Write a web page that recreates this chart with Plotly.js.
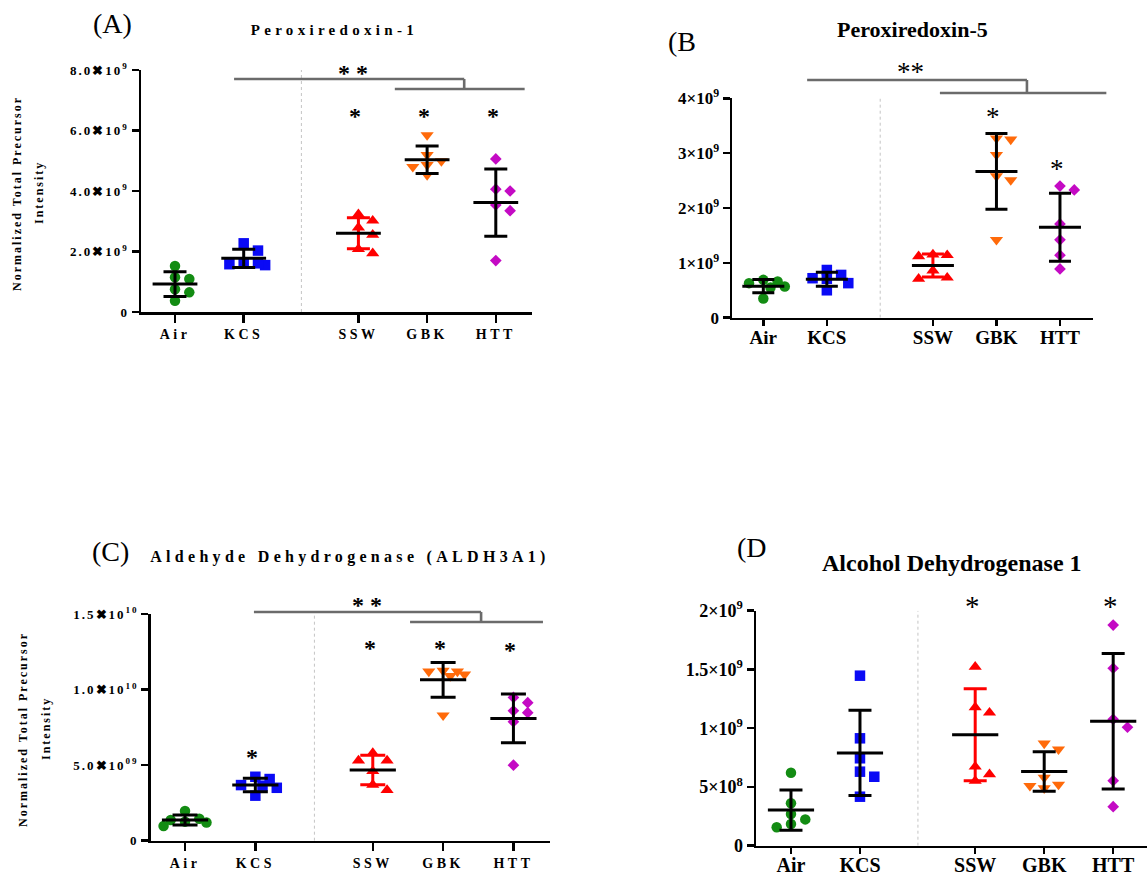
<!DOCTYPE html>
<html>
<head>
<meta charset="utf-8">
<script src="https://cdn.plot.ly/plotly-3.0.1.min.js"></script>
<style>
html,body{margin:0;padding:0;background:#fff;}
#chart{width:1147px;height:878px;}
.xtick text,.x3tick text{letter-spacing:3.5px;}
.ytick text,.y3tick text{letter-spacing:2px;}
g.annotation[data-index="0"] text,g.annotation[data-index="1"] text{letter-spacing:4.3px;}
g.annotation[data-index="2"] text,g.annotation[data-index="3"] text,
g.annotation[data-index="4"] text,g.annotation[data-index="5"] text{letter-spacing:2px;}
</style>
</head>
<body>
<div id="chart"></div>
<script>
// ---------------- data ----------------
const categories = ["Air", "KCS", "SSW", "GBK", "HTT"];

// (A) Peroxiredoxin-1
const prdx1Air = [1.15e9, 1.52e9, 1.09e9, 0.75e9, 0.65e9, 0.37e9];
const prdx1KCS = [2.27e9, 2.03e9, 1.61e9, 1.55e9, 1.58e9, 1.61e9];
const prdx1SSW = [2.79e9, 3.23e9, 3.02e9, 2.55e9, 1.94e9, 2.08e9];
const prdx1GBK = [5.85e9, 5.19e9, 4.86e9, 4.80e9, 4.99e9, 4.53e9];
const prdx1HTT = [5.06e9, 4.00e9, 4.06e9, 3.54e9, 3.35e9, 1.70e9];

// (B) Peroxiredoxin-5
const prdx5Air = [0.69e9, 0.66e9, 0.57e9, 0.55e9, 0.35e9, 0.63e9];
const prdx5KCS = [0.87e9, 0.71e9, 0.78e9, 0.63e9, 0.50e9, 0.72e9];
const prdx5SSW = [1.15e9, 1.14e9, 1.12e9, 0.86e9, 0.71e9, 0.73e9];
const prdx5GBK = [3.25e9, 3.27e9, 2.97e9, 2.58e9, 2.51e9, 1.42e9];
const prdx5HTT = [2.33e9, 2.40e9, 1.71e9, 1.42e9, 1.14e9, 0.89e9];

// (C) Aldehyde Dehydrogenase (ALDH3A1)
const aldhAir = [1.96e9, 1.37e9, 0.97e9, 1.26e9, 1.45e9, 1.20e9];
const aldhKCS = [4.23e9, 4.08e9, 3.64e9, 3.68e9, 2.98e9, 3.50e9];
const aldhSSW = [5.80e9, 5.30e9, 5.30e9, 4.60e9, 3.35e9, 3.70e9];
const aldhGBK = [11.20e9, 10.90e9, 11.00e9, 11.20e9, 11.25e9, 8.30e9];
const aldhHTT = [9.48e9, 9.13e9, 8.47e9, 8.60e9, 7.87e9, 5.00e9];

// (D) Alcohol Dehydrogenase 1
const adhAir = [6.21e8, 3.61e8, 2.70e8, 2.24e8, 1.85e8, 1.57e8];
const adhKCS = [14.47e8, 9.14e8, 7.44e8, 6.30e8, 5.87e8, 4.17e8];
const adhSSW = [15.23e8, 11.32e8, 11.78e8, 6.72e8, 6.08e8, 5.51e8];
const adhGBK = [8.20e8, 8.70e8, 5.80e8, 4.90e8, 5.20e8, 5.10e8];
const adhHTT = [18.78e8, 15.10e8, 10.76e8, 10.08e8, 5.53e8, 3.32e8];

// significance marks per group
const sigA = ["", "", "*", "*", "*"];
const sigB = ["", "", "", "*", "*"];
const sigC = ["", "*", "*", "*", "*"];
const sigD = ["", "", "*", "", "*"];

// y tick values / labels
const tickValsA = [0, 2e9, 4e9, 6e9, 8e9];
const tickTextA = ["0", "2.0✖10<sup>9</sup>", "4.0✖10<sup>9</sup>", "6.0✖10<sup>9</sup>", "8.0✖10<sup>9</sup>"];
const tickValsB = [0, 1e9, 2e9, 3e9, 4e9];
const tickTextB = ["0", "1×10<sup>9</sup>", "2×10<sup>9</sup>", "3×10<sup>9</sup>", "4×10<sup>9</sup>"];
const tickValsC = [0, 5e9, 1e10, 1.5e10];
const tickTextC = ["0", "5.0✖10<sup>09</sup>", "1.0✖10<sup>10</sup>", "1.5✖10<sup>10</sup>"];
const tickValsD = [0, 5e8, 1e9, 1.5e9, 2e9];
const tickTextD = ["0", "5×10<sup>8</sup>", "1×10<sup>9</sup>", "1.5×10<sup>9</sup>", "2×10<sup>9</sup>"];

// ---------------- layout / style ----------------
const W = 1147, H = 878;
const SERIF = "Liberation Serif, Times New Roman, serif";
const GAP = 0.67;
const catPos = categories.map((c, i) => i + (i >= 2 ? GAP : 0));

const groupStyle = [
  {symbol: "circle",        color: "#138c13", size: 10.5, err: "#000000"},
  {symbol: "square",        color: "#0a0af5", size: 10.5, err: "#000000"},
  {symbol: "triangle-up",   color: "#ff0000", size: 11.5, err: "#ff0000"},
  {symbol: "triangle-down", color: "#ff6a0a", size: 11.5, err: "#000000"},
  {symbol: "diamond",       color: "#c40ac4", size: 9,    err: "#000000"}
];

const panels = [
  {xa: "x",  ya: "y",  box: {l: 141, r: 532, t: 70, b: 312}, xr: [-0.495, 5.197], yMax: 8e9,
   series: [prdx1Air, prdx1KCS, prdx1SSW, prdx1GBK, prdx1HTT], sig: sigA,
   starY: [0, 0, 113, 113, 113], starFont: {size: 24, weight: "bold"},
   tv: tickValsA, tt: tickTextA, xfs: 14, yfs: 13, xtl: 8, xso: 0, meanSize: 32, cap: 11.5,
   bracket: {top: [0.86, 4.21], low: [3.2, 5.09], yTop: 79, yLow: 89, starX: 2.59, starY: 70, text: "* *", size: 24, weight: "bold"}},
  {xa: "x2", ya: "y2", box: {l: 732, r: 1093, t: 98.3, b: 317.7}, xr: [-0.493, 5.19], yMax: 4e9,
   series: [prdx5Air, prdx5KCS, prdx5SSW, prdx5GBK, prdx5HTT], sig: sigB,
   starY: [0, 0, 0, 113, 165], starFont: {size: 27, weight: "normal"},
   tv: tickValsB, tt: tickTextB, xfs: 19, yfs: 17, xtl: 6, xso: -5, meanSize: 30, cap: 11,
   bracket: {top: [0.69, 4.15], low: [2.78, 5.4], yTop: 80, yLow: 93, starX: 2.31, starY: 68, text: "**", size: 27, weight: "normal"}},
  {xa: "x3", ya: "y3", box: {l: 150.7, r: 550, t: 614, b: 840.7}, xr: [-0.488, 5.19], yMax: 1.5e10,
   series: [aldhAir, aldhKCS, aldhSSW, aldhGBK, aldhHTT], sig: sigC,
   starY: [0, 754, 645, 645, 647], starFont: {size: 24, weight: "bold"},
   tv: tickValsC, tt: tickTextC, xfs: 14, yfs: 13, xtl: 8, xso: 0, meanSize: 33, cap: 12.5,
   bracket: {top: [0.98, 4.21], low: [3.2, 5.09], yTop: 612, yLow: 622, starX: 2.59, starY: 602, text: "* *", size: 24, weight: "bold"}},
  {xa: "x4", ya: "y4", box: {l: 756, r: 1147, t: 610.7, b: 845.7}, xr: [-0.507, 5.16], yMax: 2e9,
   series: [adhAir, adhKCS, adhSSW, adhGBK, adhHTT], sig: sigD,
   starY: [0, 0, 602, 0, 602], starFont: {size: 29, weight: "normal"},
   tv: tickValsD, tt: tickTextD, xfs: 20, yfs: 18, xtl: 6, xso: -6, meanSize: 33, cap: 11.5,
   bracket: null}
];

// ---------------- helpers ----------------
function mean(a) { return a.reduce((s, v) => s + v, 0) / a.length; }
function sd(a) { const m = mean(a); return Math.sqrt(a.reduce((s, v) => s + (v - m) * (v - m), 0) / (a.length - 1)); }
function paperX(p, xv) { return (p.box.l + (xv - p.xr[0]) / (p.xr[1] - p.xr[0]) * (p.box.r - p.box.l)) / W; }
function paperY(ypx) { return 1 - ypx / H; }

// beeswarm (Prism-like): points whose values are close sit side by side in a row
function swarm(vals, pxPerY, pxPerX, diam) {
  const order = vals.map((v, i) => i).sort((a, b) => vals[b] - vals[a]);
  const placed = [];
  const off = new Array(vals.length).fill(0);
  const step = diam * 0.65, needX = diam * 1.25, needY = diam * 0.9;
  const cands = [0];
  for (let m = 1; m <= 3; m++) { cands.push(m * step, -m * step); }
  for (const i of order) {
    const y = vals[i] * pxPerY;
    let best = null, bestScore = -1;
    for (const dx of cands) {
      const clash = placed.some(q => Math.abs(q.y - y) < needY && Math.abs(q.x - dx) < needX);
      if (!clash) { best = dx; break; }
      const score = Math.min(...placed.map(q => Math.hypot(q.x - dx, q.y - y)));
      if (score > bestScore) { bestScore = score; best = dx; }
    }
    placed.push({x: best, y: y});
    off[i] = best / pxPerX;
  }
  return off;
}

const traces = [];
const shapes = [];
const annotations = [];
const layout = {
  width: W, height: H, margin: {l: 0, r: 0, t: 0, b: 0},
  paper_bgcolor: "#fff", plot_bgcolor: "rgba(0,0,0,0)",
  showlegend: false, font: {family: SERIF, color: "#000"}
};

// text annotations (indices 0..5 used by CSS letter-spacing)
function addText(text, xpx, ypx, size, opts) {
  opts = opts || {};
  annotations.push({
    text: text, xref: "paper", yref: "paper", x: xpx / W, y: paperY(ypx),
    xanchor: "center", yanchor: "middle", showarrow: false,
    textangle: opts.angle || 0,
    font: {family: SERIF, size: size, color: "#000", weight: opts.weight || "normal"}
  });
}
addText("Peroxiredoxin-1", 334, 30, 15, {weight: "bold"});                        // 0
addText("Aldehyde Dehydrogenase (ALDH3A1)", 350, 557, 16, {weight: "bold"});       // 1
addText("Normalized Total Precursor", 17, 193, 12, {weight: "bold", angle: -90});  // 2
addText("Intensity", 39, 193, 12, {weight: "bold", angle: -90});                    // 3
addText("Normalized Total Precursor", 23, 729, 12, {weight: "bold", angle: -90});  // 4
addText("Intensity", 46, 729, 12, {weight: "bold", angle: -90});                    // 5

panels.forEach((p, pi) => {
  const sfx = pi === 0 ? "" : String(pi + 1);
  const pw = p.box.r - p.box.l, ph = p.box.b - p.box.t;
  const pxPerX = pw / (p.xr[1] - p.xr[0]);
  const pxPerY = ph / p.yMax;

  layout["xaxis" + sfx] = {
    domain: [p.box.l / W, p.box.r / W], range: p.xr, anchor: "y" + sfx,
    showline: true, linewidth: 2.5, linecolor: "#000", mirror: false,
    ticks: "outside", ticklen: p.xtl, tickwidth: 2.5, tickcolor: "#000",
    ticklabelstandoff: p.xso,
    tickmode: "array", tickvals: catPos, ticktext: categories,
    tickfont: {family: SERIF, size: p.xfs, color: "#000", weight: "bold"},
    showgrid: false, zeroline: false, fixedrange: true
  };
  layout["yaxis" + sfx] = {
    domain: [paperY(p.box.b), paperY(p.box.t)], range: [0, p.yMax], anchor: "x" + sfx,
    showline: true, linewidth: 2.5, linecolor: "#000",
    ticks: "outside", ticklen: 7, tickwidth: 2.5, tickcolor: "#000",
    tickmode: "array", tickvals: p.tv, ticktext: p.tt,
    tickfont: {family: SERIF, size: p.yfs, color: "#000", weight: "bold"},
    showgrid: false, zeroline: false, fixedrange: true
  };

  // dotted separator between controls and treatments
  shapes.push({type: "line", xref: "x" + sfx, yref: "y" + sfx, x0: 1.84, x1: 1.84, y0: 0, y1: p.yMax,
               line: {color: "#c4c4c4", width: 1, dash: "dot"}, layer: "below"});

  p.series.forEach((vals, gi) => {
    const st = groupStyle[gi];
    const off = swarm(vals, pxPerY, pxPerX, 11);
    traces.push({
      type: "scatter", mode: "markers", xaxis: "x" + sfx, yaxis: "y" + sfx,
      x: vals.map((v, i) => catPos[gi] + off[i]), y: vals,
      marker: {symbol: st.symbol, size: st.size, color: st.color, line: {width: 0}},
      cliponaxis: false, hoverinfo: "skip"
    });
  });
  p.series.forEach((vals, gi) => {
    const st = groupStyle[gi];
    traces.push({
      type: "scatter", mode: "markers", xaxis: "x" + sfx, yaxis: "y" + sfx,
      x: [catPos[gi]], y: [mean(vals)],
      marker: {symbol: "line-ew", size: p.meanSize, color: "#000", line: {width: 3, color: "#000"}},
      error_y: {type: "data", array: [sd(vals)], visible: true, color: st.err, thickness: 3, width: p.cap},
      cliponaxis: false, hoverinfo: "skip"
    });
    if (p.sig[gi]) {
      const fs = p.starFont.size;
      annotations.push({
        text: p.sig[gi], xref: "paper", yref: "paper",
        x: paperX(p, catPos[gi]) - 3 / W, y: paperY(p.starY[gi] + fs * 0.14),
        xanchor: "center", yanchor: "middle", showarrow: false,
        font: {family: SERIF, size: fs, color: "#000", weight: p.starFont.weight}
      });
    }
  });

  if (p.bracket) {
    const b = p.bracket, lc = {color: "#6b6b6b", width: 2.6};
    shapes.push({type: "line", xref: "paper", yref: "paper", x0: paperX(p, b.top[0]), x1: paperX(p, b.top[1]), y0: paperY(b.yTop), y1: paperY(b.yTop), line: lc});
    shapes.push({type: "line", xref: "paper", yref: "paper", x0: paperX(p, b.top[1]), x1: paperX(p, b.top[1]), y0: paperY(b.yTop), y1: paperY(b.yLow), line: lc});
    shapes.push({type: "line", xref: "paper", yref: "paper", x0: paperX(p, b.low[0]), x1: paperX(p, b.low[1]), y0: paperY(b.yLow), y1: paperY(b.yLow), line: lc});
    annotations.push({
      text: b.text, xref: "paper", yref: "paper", x: paperX(p, b.starX), y: paperY(b.starY + b.size * 0.14),
      xanchor: "center", yanchor: "middle", showarrow: false,
      font: {family: SERIF, size: b.size, color: "#000", weight: b.weight}
    });
  }
});

// panel letters and the other titles
addText("(A)", 112, 23, 28);
addText("(B", 682, 42, 28);
addText("(C)", 110, 551, 28);
addText("(D", 752, 547, 28);
addText("Peroxiredoxin-5", 912, 30, 22, {weight: "bold"});
addText("Alcohol Dehydrogenase 1", 952, 563, 24, {weight: "bold"});

layout.shapes = shapes;
layout.annotations = annotations;

Plotly.newPlot("chart", traces, layout, {displayModeBar: false, staticPlot: true});
</script>
</body>
</html>
